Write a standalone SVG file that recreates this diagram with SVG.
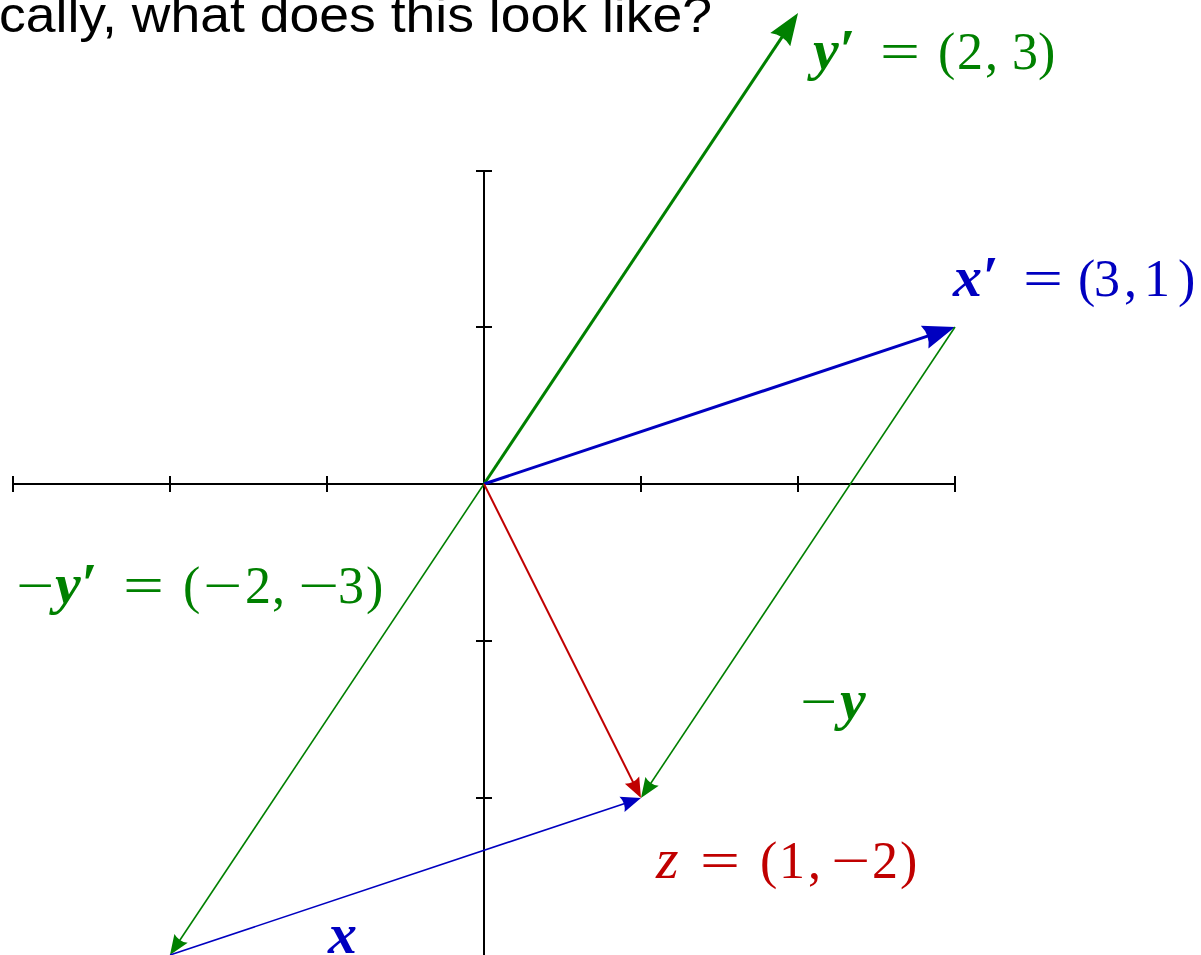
<svg xmlns="http://www.w3.org/2000/svg" width="1201" height="955" viewBox="0 0 1201 955">
<style>
.ax{stroke:#000;stroke-width:2;fill:none}
.g{stroke:#008000;fill:none}
.b{stroke:#0000c0;fill:none}
.r{stroke:#c00000;fill:none}
.thick{stroke-width:3}
.thin{stroke-width:1.6}
.mid{stroke-width:2}
.m{font-family:"Liberation Serif","DejaVu Serif",serif;font-size:52px}
.v{font-size:58px}
.bi{font-weight:bold;font-style:italic}
.it{font-style:italic}
.tg{fill:#008000}
.tb{fill:#0000c0}
.tr{fill:#c00000}
.title{font-family:"Liberation Sans",Arial,sans-serif;font-size:50px;fill:#000}
</style>
<defs>
<marker id="mThickG" markerUnits="userSpaceOnUse" overflow="visible" refX="22" refY="0" orient="auto" markerWidth="40" markerHeight="30"><path d="M32,0 L0,-12 Q6,0 0,12 Z" fill="#008000"/></marker>
<marker id="mThickB" markerUnits="userSpaceOnUse" overflow="visible" refX="22" refY="0" orient="auto" markerWidth="40" markerHeight="30"><path d="M32,0 L0,-12 Q6,0 0,12 Z" fill="#0000c0"/></marker>
<marker id="mThinG" markerUnits="userSpaceOnUse" overflow="visible" refX="14" refY="0" orient="auto" markerWidth="30" markerHeight="20"><path d="M20,0 L0,-8 Q4,0 0,8 Z" fill="#008000"/></marker>
<marker id="mThinB" markerUnits="userSpaceOnUse" overflow="visible" refX="14" refY="0" orient="auto" markerWidth="30" markerHeight="20"><path d="M20,0 L0,-8 Q4,0 0,8 Z" fill="#0000c0"/></marker>
<marker id="mThinR" markerUnits="userSpaceOnUse" overflow="visible" refX="14" refY="0" orient="auto" markerWidth="30" markerHeight="20"><path d="M20,0 L0,-8 Q4,0 0,8 Z" fill="#c00000"/></marker>
</defs>
<rect width="1201" height="955" fill="#fff"/>
<text class="title" x="-1" y="32" textLength="713" lengthAdjust="spacingAndGlyphs">cally, what does this look like?</text>
<g id="axes">
<path class="ax" d="M13,484 H955 M484,171 V955"/>
<path class="ax" d="M13,476 V492 M170,476 V492 M327,476 V492 M641,476 V492 M798,476 V492 M955,476 V492"/>
<path class="ax" d="M476,171 H492 M476,327 H492 M476,641 H492 M476,798 H492"/>
</g>
<g id="connectors">
<line id="v-yprime" class="g thick" x1="484" y1="484" x2="792.5" y2="21.3" marker-end="url(#mThickG)"/>
<line id="v-xprime" class="b thick" x1="484" y1="484" x2="945.5" y2="330.2" marker-end="url(#mThickB)"/>
<line id="v-negyprime" class="g thin" x1="484" y1="484" x2="173.3" y2="950" marker-end="url(#mThinG)"/>
<line id="v-negy" class="g thin" x1="955" y1="327" x2="644.3" y2="793" marker-end="url(#mThinG)"/>
<line id="v-x" class="b thin" x1="170" y1="955" x2="635.3" y2="799.9" marker-end="url(#mThinB)"/>
<line id="v-z" class="r mid" x1="484" y1="484" x2="638.3" y2="792.6" marker-end="url(#mThinR)"/>
</g>
<g id="label-yprime" class="m tg">
<text class="v bi" x="813" y="69">y′</text>
<text x="880" y="69" textLength="40" lengthAdjust="spacingAndGlyphs">=</text>
<text x="938" y="69">(</text>
<text x="957" y="69">2</text>
<text x="985" y="69">,</text>
<text x="1012" y="69">3</text>
<text x="1038" y="69">)</text>
</g>
<g id="label-xprime" class="m tb">
<text class="v bi" x="953" y="296">x′</text>
<text x="1023" y="296" textLength="40" lengthAdjust="spacingAndGlyphs">=</text>
<text x="1078" y="296">(</text>
<text x="1094" y="296">3</text>
<text x="1124" y="296">,</text>
<text x="1144" y="296">1</text>
<text x="1178" y="296">)</text>
</g>
<g id="label-negyprime" class="m tg">
<text x="16" y="603" textLength="38" lengthAdjust="spacingAndGlyphs">−</text>
<text class="v bi" x="55" y="603">y′</text>
<text x="123" y="603" textLength="41" lengthAdjust="spacingAndGlyphs">=</text>
<text x="183" y="603">(</text>
<text x="203" y="603" textLength="39" lengthAdjust="spacingAndGlyphs">−</text>
<text x="245" y="603">2</text>
<text x="272" y="603">,</text>
<text x="298" y="603" textLength="41" lengthAdjust="spacingAndGlyphs">−</text>
<text x="338" y="603">3</text>
<text x="366" y="603">)</text>
</g>
<g id="label-negy" class="m tg">
<text x="800" y="719" textLength="37" lengthAdjust="spacingAndGlyphs">−</text>
<text class="v bi" x="840" y="719">y</text>
</g>
<g id="label-z" class="m tr">
<text class="v it" x="656" y="878">z</text>
<text x="700" y="878" textLength="40" lengthAdjust="spacingAndGlyphs">=</text>
<text x="760" y="878">(</text>
<text x="779" y="878">1</text>
<text x="808" y="878">,</text>
<text x="831" y="878" textLength="39" lengthAdjust="spacingAndGlyphs">−</text>
<text x="872" y="878">2</text>
<text x="900" y="878">)</text>
</g>
<g id="label-x" class="m tb">
<text class="v bi" x="328" y="953">x</text>
</g>
</svg>
